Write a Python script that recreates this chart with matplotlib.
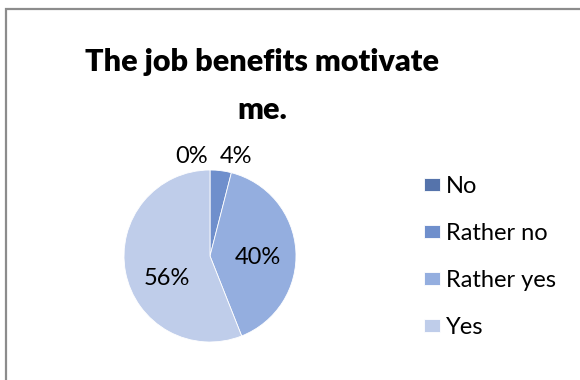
import matplotlib
matplotlib.use("Agg")
import matplotlib.pyplot as plt
from matplotlib.patches import Rectangle

plt.rcParams['font.family'] = ['Lato', 'DejaVu Sans']

# Survey answers, share of respondents in percent
categories = ["No", "Rather no", "Rather yes", "Yes"]
shares = [0, 4, 40, 56]
colors = ["#5573AB", "#6F8FCC", "#94AEDF", "#BFCDEA"]
title = "The job benefits motivate\nme."

fig = plt.figure(figsize=(5.8, 3.8), dpi=100)
fig.patch.set_facecolor("white")

# chart frame
fig.patches.append(Rectangle((6 / 580, -0.1), 1.2, 1 - 8.5 / 380 + 0.1,
                             transform=fig.transFigure, fill=False,
                             edgecolor="#8C8C8C", linewidth=1.6))

fig.text(262 / 580, 1 - 86 / 380, title, ha="center", va="center",
         fontsize=22, fontweight="heavy", linespacing=1.85)

ax = fig.add_axes([124 / 580, 38 / 380, 172 / 580, 172 / 380])
wedges, texts, autotexts = ax.pie(
    shares, colors=colors, startangle=90, counterclock=False,
    autopct=lambda p: f"{p:.0f}%", pctdistance=0.56,
    wedgeprops=dict(linewidth=0.6, edgecolor="white"),
    textprops=dict(fontsize=17, color="black"))
ax.set_xlim(-1, 1)
ax.set_ylim(-1, 1)
ax.set_aspect("equal")

# small slices get their labels above the pie
autotexts[0].set_position((-0.22, 1.16))
autotexts[1].set_position((0.3, 1.16))
autotexts[2].set_position((0.56, -0.02))
autotexts[3].set_position((-0.5, -0.26))
for t in autotexts:
    t.set_clip_on(False)

leg = fig.legend(wedges, categories, loc="upper left",
                 bbox_to_anchor=(424 / 580, 1 - 176 / 380),
                 frameon=False, fontsize=17, handlelength=0.68,
                 handleheight=0.47, handletextpad=0.25, labelspacing=1.1,
                 borderaxespad=0, borderpad=0)

fig.savefig("out.png", dpi=100)
